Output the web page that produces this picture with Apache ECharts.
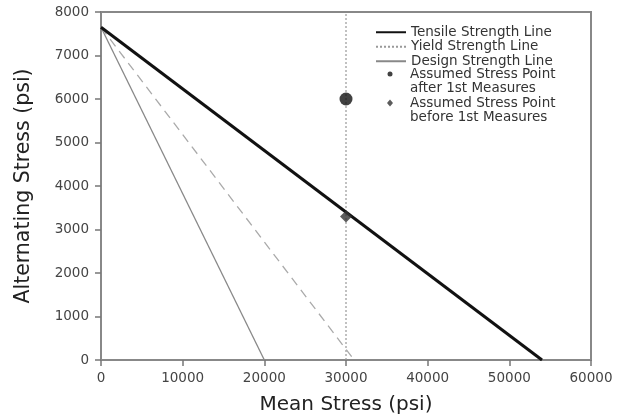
<!DOCTYPE html>
<html>
<head>
<meta charset="utf-8">
<script src="https://cdn.jsdelivr.net/npm/echarts@6/dist/echarts.min.js"></script>
<style>html,body{margin:0;padding:0;background:#fff}#c{width:628px;height:420px}</style>
</head>
<body>
<div id="c"></div>
<script>
// ---- data ----
const tensileX = [0, 54000];
const tensileY = [7650, 0];
const yieldX = [30000, 30000];
const yieldY = [0, 8000];
const designX = [0, 20000];
const designY = [7650, 0];
const dashedX = [0, 31000];
const dashedY = [7650, 0];
const pointAfterX = [30000];
const pointAfterY = [6000];
const pointBeforeX = [30000];
const pointBeforeY = [3300];
const xTickValues = [0, 10000, 20000, 30000, 40000, 50000, 60000];
const yTickValues = [0, 1000, 2000, 3000, 4000, 5000, 6000, 7000, 8000];
const seriesNames = [
  'Tensile Strength Line',
  'Yield Strength Line',
  'Design Strength Line',
  'Assumed Stress Point\nafter 1st Measures',
  'Assumed Stress Point\nbefore 1st Measures'
];

function pairs(xs, ys) { return xs.map((x, i) => [x, ys[i]]); }

const FONT = 'DejaVu Sans';
const legendText = { fontFamily: FONT, fontSize: 13.5, color: '#333', lineHeight: 14.5 };
const chart = echarts.init(document.getElementById('c'), null, { renderer: 'canvas' });
chart.setOption({
  animation: false,
  backgroundColor: '#fff',
  grid: { left: 101, right: 37, top: 12, bottom: 58, show: true, borderColor: '#888', borderWidth: 2 },
  legend: [
    {
      data: seriesNames.slice(0, 3),
      orient: 'vertical', left: 375, top: 25, padding: 0, itemWidth: 30, itemHeight: 10, itemGap: 0,
      itemStyle: { opacity: 0 },
      textStyle: legendText
    },
    {
      data: [
        { name: seriesNames[3], icon: 'path://M0,0 M30,29 M12.5,7 A2.5,2.5 0 1,0 17.5,7 A2.5,2.5 0 1,0 12.5,7 Z' },
        { name: seriesNames[4], icon: 'path://M0,0 M30,29 M15,3.5 L18,7 L15,10.5 L12,7 Z' }
      ],
      orient: 'vertical', left: 375, top: 67, padding: 0, itemWidth: 30, itemHeight: 29, itemGap: 0,
      textStyle: legendText
    }
  ],
  xAxis: {
    type: 'value', min: xTickValues[0], max: xTickValues[xTickValues.length - 1], interval: 10000,
    name: 'Mean Stress (psi)', nameLocation: 'middle', nameGap: 35,
    nameTextStyle: { fontFamily: FONT, fontSize: 20, color: '#222' },
    axisLine: { show: true, lineStyle: { color: '#888', width: 2 } },
    axisTick: { show: true, length: 6, lineStyle: { color: '#777', width: 1.5 } },
    axisLabel: { fontFamily: FONT, fontSize: 13.5, color: '#444', margin: 11, formatter: v => String(v) },
    splitLine: { show: false }
  },
  yAxis: {
    type: 'value', min: yTickValues[0], max: yTickValues[yTickValues.length - 1], interval: 1000,
    name: 'Alternating Stress (psi)', nameLocation: 'middle', nameGap: 67,
    nameTextStyle: { fontFamily: FONT, fontSize: 20.5, color: '#222' },
    axisLine: { show: true, lineStyle: { color: '#888', width: 2 } },
    axisTick: { show: true, length: 6, lineStyle: { color: '#777', width: 1.5 } },
    axisLabel: { fontFamily: FONT, fontSize: 13.5, color: '#444', margin: 12, formatter: v => String(v) },
    splitLine: { show: false }
  },
  series: [
    { name: seriesNames[0], type: 'line', data: pairs(tensileX, tensileY), symbol: 'none',
      lineStyle: { color: '#111', width: 3 }, itemStyle: { color: '#111' }, z: 5 },
    { name: seriesNames[1], type: 'line', data: pairs(yieldX, yieldY), symbol: 'none',
      lineStyle: { color: '#999', width: 1.2, type: [2, 2] }, itemStyle: { color: '#999' } },
    { name: seriesNames[2], type: 'line', data: pairs(designX, designY), symbol: 'none',
      lineStyle: { color: '#888', width: 1.3 }, itemStyle: { color: '#bbb' } },
    { name: 'dashed', type: 'line', data: pairs(dashedX, dashedY), symbol: 'none',
      lineStyle: { color: '#aaa', width: 1.3, type: [9, 6] } },
    { name: seriesNames[3], type: 'scatter', data: pairs(pointAfterX, pointAfterY), symbol: 'circle', symbolSize: 13,
      itemStyle: { color: '#111' }, z: 6 },
    { name: seriesNames[4], type: 'scatter', data: pairs(pointBeforeX, pointBeforeY), symbol: 'diamond', symbolSize: 12,
      itemStyle: { color: '#333' }, z: 6 }
  ]
});
</script>
</body>
</html>
